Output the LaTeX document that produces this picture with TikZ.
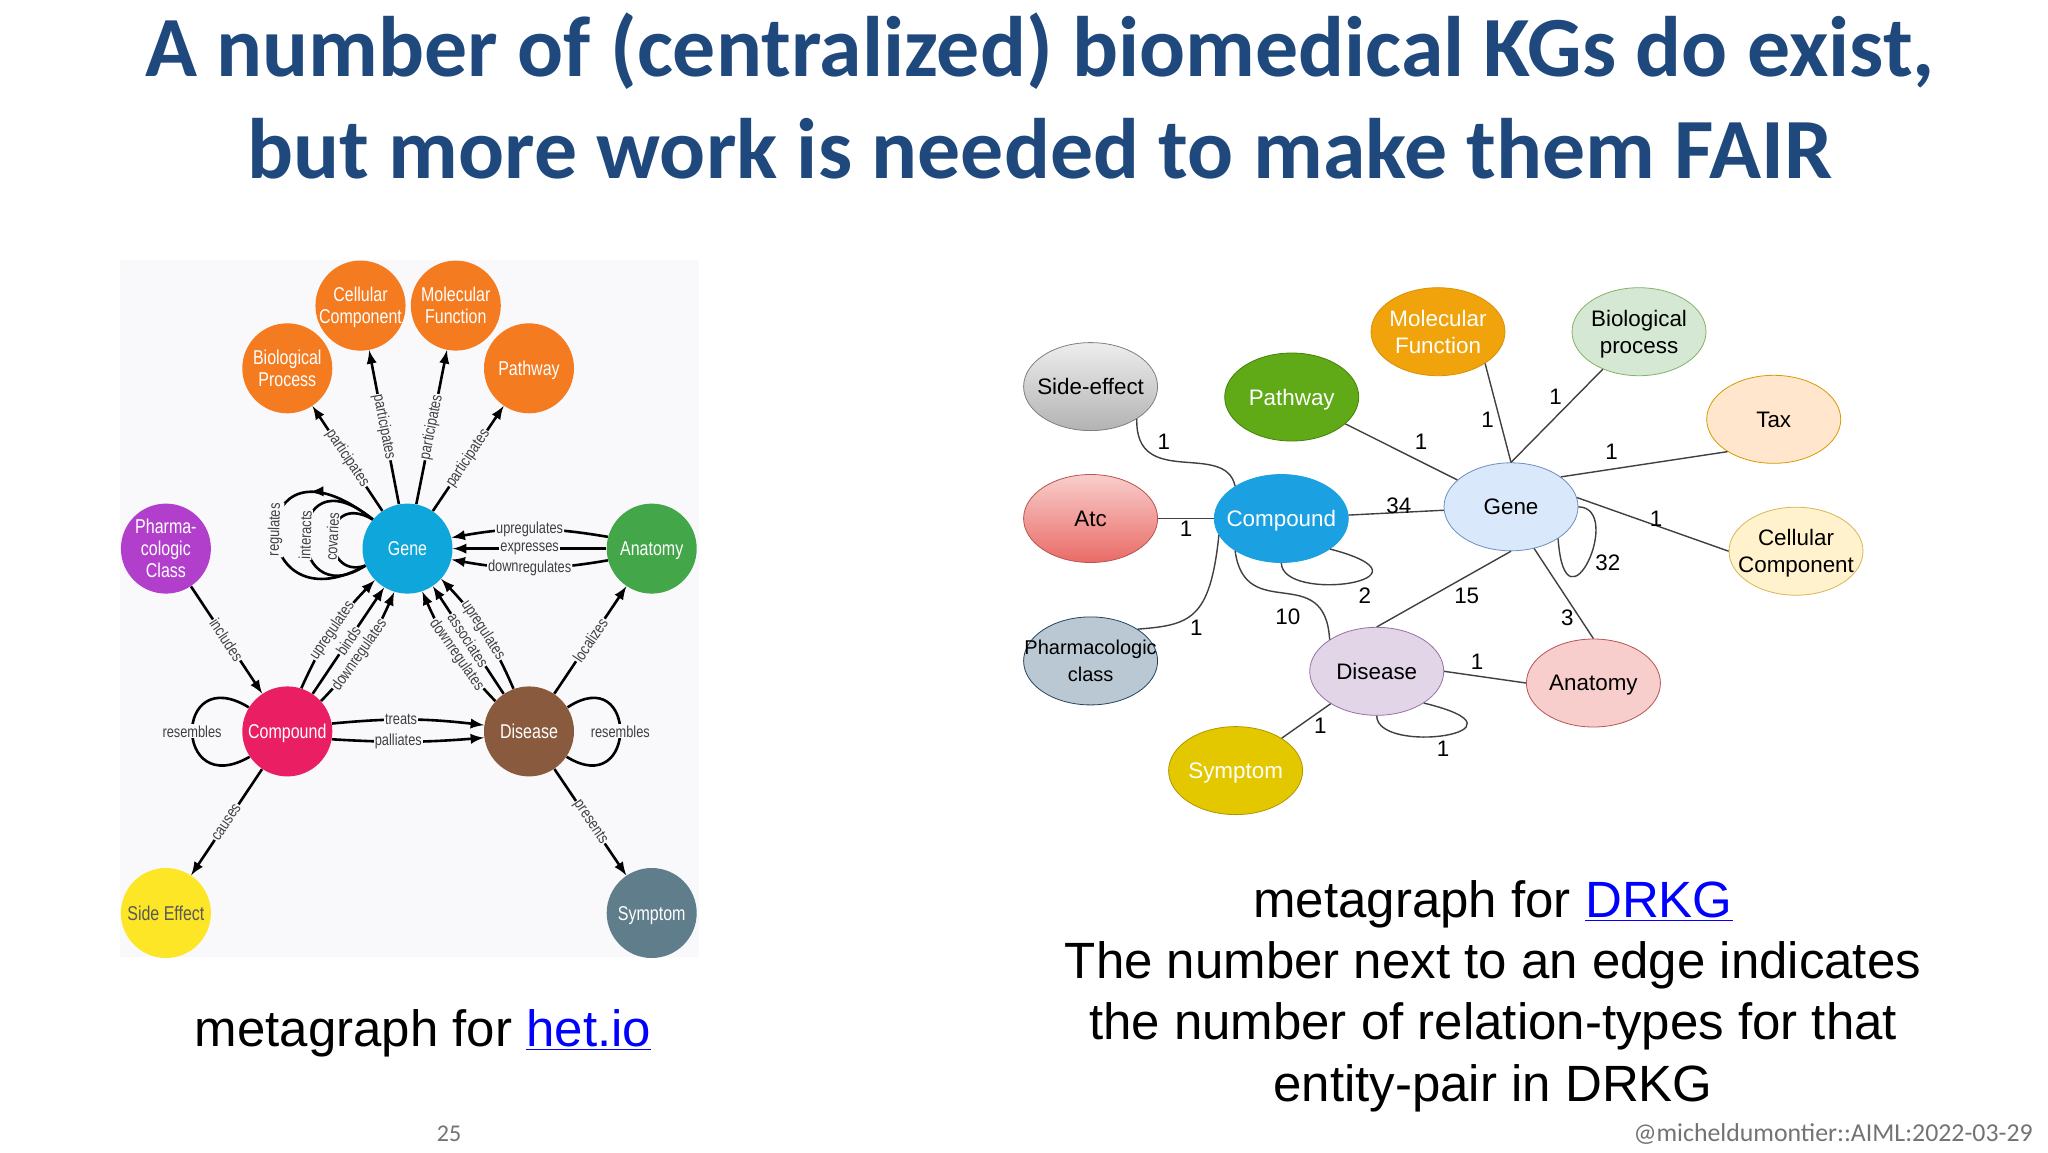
\documentclass[tikz,border=0pt]{standalone}
\usepackage{fontspec}
\usepackage{xcolor}
\usetikzlibrary{shapes, arrows, decorations.markings}
\setmainfont{Liberation Sans}
\newfontfamily\titlefont{Carlito}
\newfontfamily\narrowfont[FakeStretch=0.8]{Liberation Sans}
\definecolor{titleblue}{HTML}{1F497D}
\definecolor{panelgray}{HTML}{F9F9FB}
\definecolor{hetorange}{HTML}{F47B20}
\definecolor{hetblue}{HTML}{0FA6DC}
\definecolor{hetpurple}{HTML}{B23FCB}
\definecolor{hetgreen}{HTML}{43A648}
\definecolor{hetpink}{HTML}{E91E63}
\definecolor{hetbrown}{HTML}{8A5A3E}
\definecolor{hetyellow}{HTML}{FDE625}
\definecolor{hetslate}{HTML}{607D8B}
\tikzstyle{hetnode} = [circle, minimum size=45pt, inner sep=0pt, text centered, align=center, text depth=0pt, text=white, font=\narrowfont\fontsize{10}{11}\selectfont]
\tikzstyle{hetlabel} = [fill=panelgray, inner sep=0.5pt, text=black!75, font=\narrowfont\fontsize{8}{9}\selectfont]
\tikzstyle{hetedge} = [draw, line width=1.3pt, -latex]
\tikzstyle{hetloop} = [draw, line width=1.3pt]
\tikzstyle{loopmark} = [postaction={decorate}, decoration={markings, mark=at position 0.28 with {\arrow{latex}}}]
\tikzstyle{drkgnode} = [ellipse, draw, minimum width=67pt, minimum height=44pt, inner xsep=-10pt, inner ysep=0pt, text centered, align=center, text depth=0pt, font=\fontsize{11.2}{13.5}\selectfont]
\tikzstyle{drkgedge} = [draw, line width=0.7pt, black!75]
\tikzstyle{count} = [draw=none, inner sep=0pt, font=\fontsize{11.2}{13.5}\selectfont]
\tikzstyle{caption} = [align=center, font=\fontsize{25.5}{30.7}\selectfont]
\begin{document}
\begin{tikzpicture}[x=0.5pt, y=-0.5pt]
        \useasboundingbox (0,0) rectangle (2048,1152);
        \fill [white] (0,0) rectangle (2048,1152);
        \fill [panelgray] (120,260) rectangle (699,957);

        \node [text=titleblue, align=center, font=\titlefont\bfseries\fontsize{42.9}{51}\selectfont] at (1040,95.5) (title)
        {A number of (centralized) biomedical KGs do exist,\\but more work is needed to make them FAIR};

        % left graph
        \node [hetnode, fill=hetorange] at (360.5,305.6) (hetcellular) {Cellular\\Component};
        \node [hetnode, fill=hetorange] at (455.8,305.6) (hetmolecular) {Molecular\\Function};
        \node [hetnode, fill=hetorange] at (287.3,368.3) (hetbiological) {Biological\\Process};
        \node [hetnode, fill=hetorange] at (529,368.3) (hetpathway) {Pathway};
        \node [hetnode, fill=hetblue] at (407.5,548.6) (hetgene) {Gene};
        \node [hetnode, fill=hetpurple] at (165.9,548.6) (hetpharma) {Pharma-\\cologic\\Class};
        \node [hetnode, fill=hetgreen] at (651.7,548.6) (hetanatomy) {Anatomy};
        \node [hetnode, fill=hetpink] at (287.3,731.4) (hetcompound) {Compound};
        \node [hetnode, fill=hetbrown] at (529,731.4) (hetdisease) {Disease};
        \node [hetnode, fill=hetyellow, text=black!65] at (165.9,913) (hetside) {Side Effect};
        \node [hetnode, fill=hetslate] at (651.7,913) (hetsymptom) {Symptom};

        \path [hetedge] (hetgene) -- node [hetlabel, sloped] {participates} (hetbiological);
        \path [hetedge] (hetgene) -- node [hetlabel, sloped] {participates} (hetcellular);
        \path [hetedge] (hetgene) -- node [hetlabel, sloped] {participates} (hetmolecular);
        \path [hetedge] (hetgene) -- node [hetlabel, sloped] {participates} (hetpathway);

        \path [hetedge] (hetanatomy.165) to [bend right=10] node [hetlabel, sloped] {upregulates} (hetgene.14);
        \path [hetedge] (hetanatomy.180) -- node [hetlabel, sloped] {expresses} (hetgene.0);
        \path [hetedge] (hetanatomy.-165) to [bend left=10] node [hetlabel, sloped] {downregulates} (hetgene.-14);

        \path [hetedge] (hetcompound.72) to [bend left=10] node [hetlabel, sloped] {upregulates} (hetgene.-136);
        \path [hetedge] (hetcompound.56) -- node [hetlabel, sloped] {binds} (hetgene.-121);
        \path [hetedge] (hetcompound.42) to [bend right=10] node [hetlabel, sloped, pos=.45] {downregulates} (hetgene.-107);

        \path [hetedge] (hetdisease.138) to [bend left=10] node [hetlabel, sloped, pos=.45] {downregulates} (hetgene.-71);
        \path [hetedge] (hetdisease.124) -- node [hetlabel, sloped] {associates} (hetgene.-56);
        \path [hetedge] (hetdisease.110) to [bend right=10] node [hetlabel, sloped] {upregulates} (hetgene.-42);

        \path [hetedge] (hetcompound.10) to [bend left=6] node [hetlabel, pos=.45] {treats} (hetdisease.172);
        \path [hetedge] (hetcompound.-10) to [bend right=4] node [hetlabel, pos=.43] {palliates} (hetdisease.-172);

        \path [hetedge] (hetpharma) -- node [hetlabel, sloped] {includes} (hetcompound);
        \path [hetedge] (hetcompound) -- node [hetlabel, sloped] {causes} (hetside);
        \path [hetedge] (hetdisease) -- node [hetlabel, sloped] {localizes} (hetanatomy);
        \path [hetedge] (hetdisease) -- node [hetlabel, sloped] {presents} (hetsymptom);

        \path [hetloop, loopmark] (hetgene.140) .. controls (244,418) and (244,633) .. node [hetlabel, sloped] {regulates} (hetgene.-158);
        \path [hetloop] (hetgene.140) .. controls (284,446) and (284,618) .. node [hetlabel, sloped] {interacts} (hetgene.-158);
        \path [hetloop] (hetgene.140) .. controls (320,489) and (320,581) .. node [hetlabel, sloped] {covaries} (hetgene.-158);
        \path [hetloop] (hetcompound.148) .. controls (173,661) and (173,801) .. node [hetlabel] {resembles} (hetcompound.-146);
        \path [hetloop] (hetdisease.32) .. controls (638,661) and (638,801) .. node [hetlabel] {resembles} (hetdisease.-34);

        % right graph
        \node [drkgnode, top color=black!7, bottom color=black!30, draw=black!50] at (1090.6,386.6) (side) {Side-effect};
        \node [drkgnode, top color={rgb,255:red,248;green,206;blue,204}, bottom color={rgb,255:red,234;green,107;blue,102}, draw={rgb,255:red,184;green,84;blue,80}] at (1090.6,518.5) (atc) {Atc};
        \node [drkgnode, fill={rgb,255:red,186;green,200;blue,211}, draw={rgb,255:red,35;green,68;blue,93}, font=\fontsize{10}{13.5}\selectfont] at (1090.6,660.9) (pharmclass) {Pharmacologic\\class};
        \node [drkgnode, fill={rgb,255:red,27;green,161;blue,226}, draw={rgb,255:red,27;green,161;blue,226}, text=white] at (1281.3,518.5) (compound) {Compound};
        \node [drkgnode, fill={rgb,255:red,96;green,169;blue,23}, draw={rgb,255:red,70;green,130;blue,10}, text=white] at (1291.7,397) (pathway) {Pathway};
        \node [drkgnode, fill={rgb,255:red,240;green,163;blue,10}, draw={rgb,255:red,215;green,145;blue,10}, text=white] at (1438,331.7) (molecular) {Molecular\\Function};
        \node [drkgnode, fill={rgb,255:red,213;green,232;blue,212}, draw={rgb,255:red,130;green,179;blue,102}] at (1639,331.7) (biological) {Biological\\process};
        \node [drkgnode, fill={rgb,255:red,255;green,230;blue,204}, draw={rgb,255:red,215;green,155;blue,0}] at (1773.7,419.3) (tax) {Tax};
        \node [drkgnode, fill={rgb,255:red,218;green,232;blue,252}, draw={rgb,255:red,108;green,142;blue,191}] at (1511,506.8) (gene) {Gene};
        \node [drkgnode, fill={rgb,255:red,255;green,242;blue,204}, draw={rgb,255:red,214;green,182;blue,86}] at (1796,551.2) (cellular) {Cellular\\Component};
        \node [drkgnode, fill={rgb,255:red,225;green,213;blue,231}, draw={rgb,255:red,150;green,115;blue,166}] at (1376.7,671.3) (disease) {Disease};
        \node [drkgnode, fill={rgb,255:red,248;green,206;blue,204}, draw={rgb,255:red,184;green,84;blue,80}] at (1593.4,683) (anatomy) {Anatomy};
        \node [drkgnode, fill={rgb,255:red,227;green,200;blue,0}, draw={rgb,255:red,176;green,149;blue,0}, text=white] at (1235.6,770.6) (symptom) {Symptom};

        \path [drkgedge] (atc) -- (compound);
        \path [drkgedge] (compound) -- (gene);
        \path [drkgedge] (pathway) -- (gene);
        \path [drkgedge] (molecular.-34) -- (gene.90);
        \path [drkgedge] (biological.-134) -- (gene.90);
        \path [drkgedge] (tax.-145) -- (gene.31);
        \path [drkgedge] (cellular.180) -- (gene.8);
        \path [drkgedge] (gene.-90) -- (disease.90);
        \path [drkgedge] (gene.-61) -- (anatomy.90);
        \path [drkgedge] (disease.0) -- (anatomy.180);
        \path [drkgedge] (disease) -- (symptom);
        \path [drkgedge] (side.-35) .. controls (1135,490) and (1225,440) .. (compound.145);
        \path [drkgedge] (compound.-165) .. controls (1210,620) and (1190,625) .. (pharmclass.34);
        \path [drkgedge] (compound.-145) .. controls (1245,625) and (1325,560) .. (disease.146);
        \path [drkgedge] (compound.-90) .. controls (1282,604) and (1448,580) .. (compound.-32);
        \path [drkgedge] (gene.0) .. controls (1625,508) and (1565,640) .. (gene.-34);
        \path [drkgedge] (disease.-90) .. controls (1377,756) and (1544,732) .. (disease.-34);

        \node [count] at (1163.8,441.5) (nside) {1};
        \node [count] at (1186,529) (natc) {1};
        \node [count] at (1196.4,628.2) (npharm) {1};
        \node [count] at (1398.8,505.5) (ngene) {34};
        \node [count] at (1364.9,595.6) (nself) {2};
        \node [count] at (1287.8,616.5) (ndisease) {10};
        \node [count] at (1421,441.5) (npathway) {1};
        \node [count] at (1487.6,419.3) (nmolecular) {1};
        \node [count] at (1555.6,397) (nbiological) {1};
        \node [count] at (1611.7,451.9) (ntax) {1};
        \node [count] at (1656.1,518.5) (ncellular) {1};
        \node [count] at (1607.8,562.9) (ngeneself) {32};
        \node [count] at (1466.7,595.6) (ngenedisease) {15};
        \node [count] at (1567.3,617.8) (nanatomy) {3};
        \node [count] at (1477.2,662.2) (ndiseaseanatomy) {1};
        \node [count] at (1320.4,726.2) (nsymptom) {1};
        \node [count] at (1443.2,748.4) (ndiseaseself) {1};

        % captions
        \node [caption] at (423,1033) (hetcaption) {metagraph for \textcolor{blue}{\underline{het.io}}};
        \node [caption] at (1493,996) (drkgcaption) {metagraph for \textcolor{blue}{\underline{DRKG}}\\The number next to an edge indicates\\the number of relation-types for that\\entity-pair in DRKG};

        \node [text=black!55, font=\titlefont\fontsize{12}{14}\selectfont] at (449,1134) (page) {25};
        \node [text=black!55, anchor=east, inner sep=0pt, font=\titlefont\fontsize{12.9}{14}\selectfont] at (2033,1134) (credit) {@micheldumontier::AIML:2022-03-29};
\end{tikzpicture}
\end{document}
